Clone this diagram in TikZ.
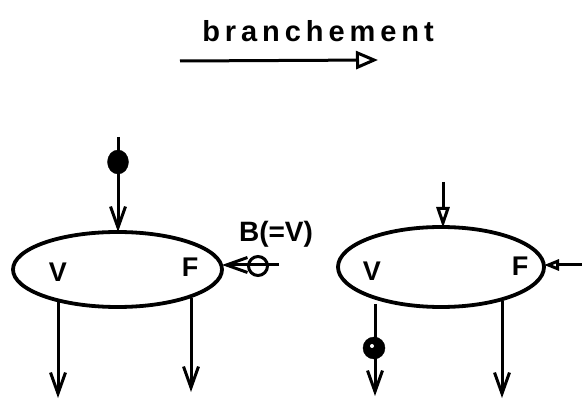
\documentclass[tikz,border=0pt]{standalone}
\usepackage{fontspec}
\setmainfont{Liberation Sans}
\newfontfamily\titlefont[LetterSpace=17]{Liberation Sans Bold}
\newfontfamily\handfont{Liberation Sans Bold}
\usetikzlibrary{arrows.meta,shapes.geometric}
\tikzset{
  blob/.style={draw, ellipse, line width=3.8pt, inner sep=0pt},
  wire/.style={line width=3pt},
  barb/.style={wire, -{Straight Barb[length=21pt,width=15pt,line width=3pt]}},
  hollow/.style={wire, -{Triangle[open,length=21pt,width=13pt,line width=3pt]}},
  lab/.style={font=\handfont\fontsize{27}{27}\selectfont, inner sep=0pt},
  dot/.style={fill=black, draw=black, inner sep=0pt},
}
\begin{document}
\begin{tikzpicture}[x=1pt,y=-1pt]
\useasboundingbox (0,0) rectangle (582,401);
% title
\node[inner sep=0pt, font=\titlefont\fontsize{29}{29}\selectfont] (title) at (318,31) {branchement};
\coordinate (t1) at (180,61);
\coordinate (t2) at (378,60);
\draw[wire, -{Triangle[open,length=22pt,width=18pt,line width=3pt]}] (t1) -- (t2);

% left graph
\node[blob, minimum width=209pt, minimum height=75pt] (L) at (117.5,269.5) {};
\node[lab] (LV) at (58,272) {V};
\node[lab] (LF) at (190,267) {F};
\coordinate (Lin) at (118,137);
\coordinate (Ltop) at (118,232);
\node[dot, ellipse, minimum width=21pt, minimum height=24pt] (Ldot) at (118,162) {};
\draw[barb] (Lin) -- (Ltop);
\coordinate (Lb1) at (58,300);
\coordinate (Lb1e) at (58,398);
\coordinate (Lb2) at (191,298);
\coordinate (Lb2e) at (191,392);
\draw[barb] (Lb1) -- (Lb1e);
\draw[barb] (Lb2) -- (Lb2e);
\coordinate (Lr) at (222,265);
\coordinate (Lrin) at (279,265);
\node[draw, circle, line width=3pt, minimum size=19pt, inner sep=0pt] (theta) at (258,266) {};
\draw[barb] (Lrin) -- (Lr);
\node[inner sep=0pt, font=\handfont\fontsize{28}{28}\selectfont] (B) at (276,234) {B(=V)};

% right graph
\node[blob, minimum width=206pt, minimum height=80pt] (R) at (441,267) {};
\node[lab] (RV) at (372,271) {V};
\node[lab] (RF) at (520,266) {F};
\coordinate (Rin) at (443,182);
\coordinate (Rtop) at (443,228);
\draw[hollow] (Rin) -- (Rtop);
\coordinate (Rrin) at (582,265);
\coordinate (Rr) at (544,265);
\draw[wire, -{Triangle[open,length=15pt,width=11pt,line width=3pt]}] (Rrin) -- (Rr);
\coordinate (Rb1) at (375,304);
\coordinate (Rb1e) at (375,396);
\coordinate (Rb2) at (502,301);
\coordinate (Rb2e) at (502,398);
\draw[barb] (Rb1) -- (Rb1e);
\draw[barb] (Rb2) -- (Rb2e);
\node[dot, circle, minimum size=22pt] (Rdot) at (374,348) {};
\node[fill=white, circle, minimum size=4pt, inner sep=0pt] (Rhole) at (372,346) {};
\end{tikzpicture}
\end{document}
